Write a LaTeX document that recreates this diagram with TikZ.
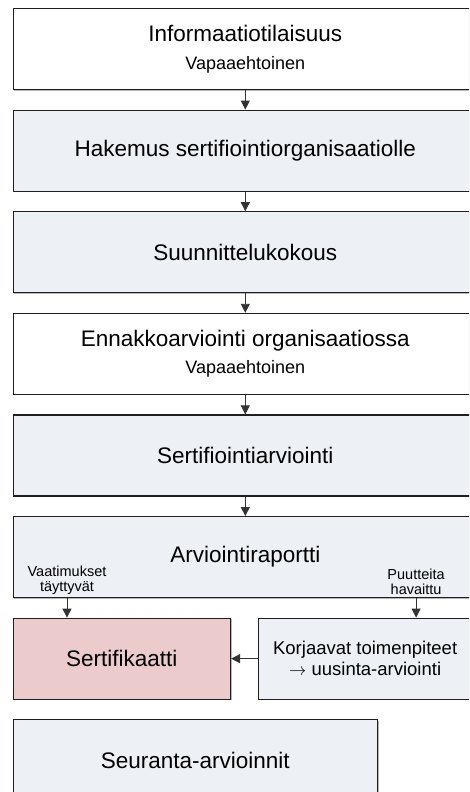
\documentclass[tikz,border=0pt]{standalone}
\usepackage{fontspec}
\setmainfont{Liberation Sans}
\usepackage{tikz}
\usetikzlibrary{arrows.meta, positioning, shadows}
\definecolor{stepfill}{HTML}{EDF0F5}
\definecolor{certfill}{HTML}{EBCBCB}
\tikzstyle{block} = [rectangle, draw=black!88, line width=1.1pt, minimum width=464.5pt, minimum height=81pt, inner sep=0pt, align=center, font=\fontsize{22.5}{26}\selectfont, drop shadow={shadow xshift=1pt, shadow yshift=-1pt, fill=black!40, opacity=0.7}]
\tikzstyle{lbl} = [inner sep=0pt, align=center, font=\fontsize{14.5}{15}\selectfont]
\tikzstyle{flow} = [-{Triangle[length=9pt, width=9pt]}, line width=0.9pt, draw=black!80]

\begin{document}
\begin{tikzpicture}[node distance=19.5pt]
		\useasboundingbox (0,0) rectangle (469pt,-792pt);
		\clip (0,0) rectangle (469pt,-792pt);

		\node [block, fill=white, anchor=north west] (info) at (12.5pt,-8pt) {
			Informaatiotilaisuus\\[2pt]{\fontsize{18}{21}\selectfont Vapaaehtoinen}
		};
		\node [block, fill=stepfill, below=of info] (apply) {Hakemus sertifiointiorganisaatiolle};
		\node [block, fill=stepfill, below=of apply] (plan) {Suunnittelukokous};
		\node [block, fill=white, below=of plan] (pre) {
			Ennakkoarviointi organisaatiossa\\[1pt]{\fontsize{18}{21}\selectfont Vapaaehtoinen}
		};
		\node [block, fill=stepfill, below=of pre] (audit) {Sertifiointiarviointi};
		\node [block, fill=stepfill, below=of audit] (report) {Arviointiraportti};

		\node [lbl, anchor=south] (met) at ([xshift=54.5pt, yshift=3pt]report.south west) {Vaatimukset\\täyttyvät};
		\node [lbl, anchor=south] (gaps) at ([xshift=-62pt, yshift=3pt]report.south east) {Puutteita\\havaittu};

		\node [block, fill=certfill, minimum width=217.5pt, anchor=north west] (cert) at ([yshift=-19.5pt]report.south west) {Sertifikaatti};
		\node [block, fill=stepfill, minimum width=213pt, anchor=west, font=\fontsize{18.5}{21}\selectfont] (fix) at ([xshift=27pt]cert.east) {
			Korjaavat toimenpiteet\\$\rightarrow$ uusinta-arviointi
		};
		\node [block, fill=stepfill, minimum width=364.5pt, anchor=north west] (follow) at ([yshift=-19.5pt]cert.south west) {Seuranta-arvioinnit};

		\draw[flow] (info.south) -- (apply.north);
		\draw[flow] (apply.south) -- (plan.north);
		\draw[flow] (plan.south) -- (pre.north);
		\draw[flow] (pre.south) -- (audit.north);
		\draw[flow] (audit.south) -- (report.north);
		\draw[flow] (met |- report.south) -- (met |- cert.north);
		\draw[flow] (gaps |- report.south) -- (gaps |- fix.north);
		\draw[flow] (fix.west) -- (cert.east);

	\end{tikzpicture}
\end{document}
